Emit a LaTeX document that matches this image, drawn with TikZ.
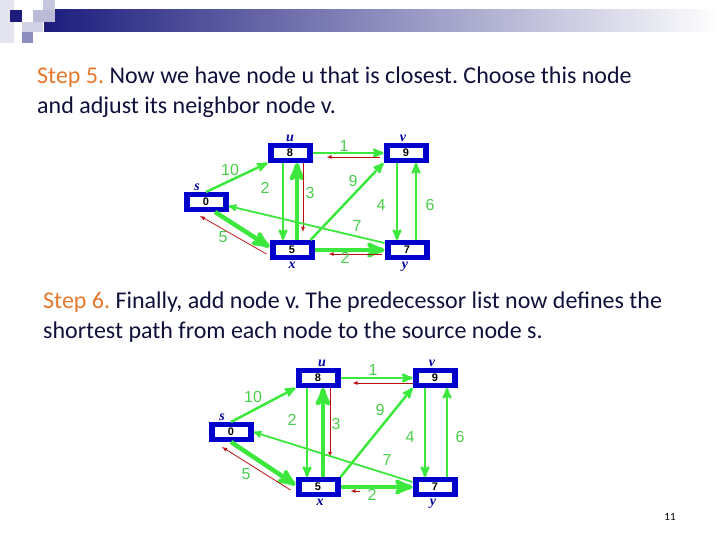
\documentclass[tikz,border=0pt]{standalone}
\usepackage{fontspec}
\setmainfont{Carlito}
\newfontfamily\arialfont{Liberation Sans}
\newfontfamily\timesfont{Liberation Serif}
\usepackage{xcolor}
\usetikzlibrary{arrows,positioning}
\definecolor{hdrblue}{RGB}{28,28,125}
\definecolor{stepcol}{RGB}{228,120,45}
\definecolor{txtcol}{RGB}{16,16,60}
\definecolor{boxblue}{RGB}{0,0,205}
\definecolor{edgegreen}{RGB}{60,232,60}
\definecolor{labgreen}{RGB}{75,205,75}
\definecolor{predred}{RGB}{185,15,15}
\tikzset{
  slidetext/.style = {anchor=base west, inner sep=0pt, text=txtcol,
    font=\fontsize{24}{30}\selectfont},
  vbox/.style = {fill=boxblue, inner sep=0pt, outer sep=0pt,
    minimum width=45pt, minimum height=20pt,
    path picture={\fill[white]
      ([shift={(6pt,-5pt)}]path picture bounding box.north west) rectangle
      ([shift={(-6pt,5pt)}]path picture bounding box.south east);},
    font=\arialfont\bfseries\fontsize{11}{11}\selectfont},% distance box
  vname/.style = {text=boxblue!80!black, inner sep=0pt,
    font=\timesfont\bfseries\itshape\fontsize{14}{14}\selectfont},% vertex name
  gedge/.style = {->, >=stealth', draw=edgegreen, line width=2.5pt},% edge
  gfat/.style = {gedge, line width=4.5pt},% relaxed edge
  redge/.style = {->, >=latex, draw=predred, line width=0.8pt},% predecessor
  wlab/.style = {text=labgreen, inner sep=0pt,
    font=\arialfont\fontsize{16}{16}\selectfont}% weight
}
\frenchspacing
\begin{document}
\begin{tikzpicture}[x=1pt,y=-1pt]
\useasboundingbox (0,0) rectangle (720,540);
% header
\shade[left color=hdrblue, right color=white] (44,10) rectangle (720,32);
\fill[hdrblue!12] (0,0) rectangle (14,43);
\fill[hdrblue!25] (43,0) rectangle (55,10);
\fill[hdrblue!30] (33,10) rectangle (55,22);
\fill[hdrblue!20] (22,22) rectangle (43,32);
\fill[hdrblue!50] (22,32) rectangle (33,43);
\fill[hdrblue] (10,10) rectangle (22,22);

% text
\node[slidetext] (t5a) at (37,84) {\textcolor{stepcol}{Step 5.} Now we have node u that is closest. Choose this node};
\node[slidetext] (t5b) at (37,114) {and adjust its neighbor node v.};
\node[slidetext] (t6a) at (43,308) {\textcolor{stepcol}{Step 6.} Finally, add node v. The predecessor list now defines the};
\node[slidetext] (t6b) at (43,338) {shortest path from each node to the source node s.};
\node[inner sep=0pt, font=\fontsize{11}{11}\selectfont] (pg) at (670,517) {11};

% step 5 graph
\node[vbox, label={[vname, xshift=-9pt, yshift=1pt]above:s}] (s5) at (206,202) {0};
\node[vbox, label={[vname, yshift=1pt]above:u}] (u5) at (290,153) {8};
\node[vbox, label={[vname, xshift=-3pt, yshift=1pt]above:v}] (v5) at (406,153) {9};
\node[vbox, label={[vname, yshift=-2pt]below:x}] (x5) at (292,250) {5};
\node[vbox, label={[vname, xshift=-2pt, yshift=-2pt]below:y}] (y5) at (407,250) {7};

\draw[gedge] (s5.north) -- (u5.south west);
\draw[gfat] ([xshift=9pt]s5.south) -- ([yshift=3pt]x5.west);
\draw[redge] ([xshift=-3pt,yshift=-4pt]x5.west) -- ([xshift=-6pt,yshift=-4pt]s5.south);
\draw[gedge] ([xshift=-7pt]u5.south) -- ([xshift=-9pt]x5.north);
\draw[gfat] ([xshift=5pt]x5.north) -- ([xshift=7pt]u5.south);
\draw[redge] ([xshift=13pt]u5.south) -- ([xshift=11pt,yshift=8pt]x5.north);
\draw[gedge] (u5.east) -- (v5.west);
\draw[redge] ([xshift=-4pt,yshift=-4pt]v5.west) -- ([xshift=14pt,yshift=-4pt]u5.east);
\draw[gedge] ([xshift=-4pt]x5.north east) -- (v5.south west);
\draw[gedge] ([xshift=-9pt]v5.south) -- ([xshift=-10pt]y5.north);
\draw[gedge] ([xshift=9pt]y5.north) -- ([xshift=10pt]v5.south);
\draw[gedge, line width=1.8pt] ([yshift=7pt]y5.west) -- ([yshift=-4pt]s5.east);
\draw[gfat] (x5.east) -- (y5.west);
\draw[redge] ([xshift=-3pt,yshift=-4pt]y5.west) -- ([xshift=14pt,yshift=-4pt]x5.east);

\node[wlab] (w5su) at (230,170) {10};
\node[wlab] (w5sx) at (223,237) {5};
\node[wlab] (w5ux) at (265,188) {2};
\node[wlab] (w5xu) at (310,193) {3};
\node[wlab] (w5uv) at (344,146) {1};
\node[wlab] (w5xv) at (353,181) {9};
\node[wlab] (w5vy) at (381,205) {4};
\node[wlab] (w5yv) at (430,205) {6};
\node[wlab] (w5ys) at (357,226) {7};
\node[wlab] (w5xy) at (345,258) {2};

% step 6 graph
\node[vbox, label={[vname, xshift=-9pt, yshift=1pt]above:s}] (s6) at (231,432) {0};
\node[vbox, label={[vname, xshift=4pt, yshift=1pt]above:u}] (u6) at (318,378) {8};
\node[vbox, label={[vname, xshift=-3pt, yshift=1pt]above:v}] (v6) at (435,378) {9};
\node[vbox, label={[vname, xshift=2pt, yshift=-2pt]below:x}] (x6) at (318,487) {5};
\node[vbox, label={[vname, xshift=-2pt, yshift=-2pt]below:y}] (y6) at (435,487) {7};

\draw[gedge] (s6.north) -- (u6.south west);
\draw[gfat] (s6.south) -- ([yshift=2pt]x6.west);
\draw[redge] ([xshift=-5pt,yshift=-3pt]x6.west) -- ([xshift=-9pt,yshift=-5pt]s6.south);
\draw[gedge] ([xshift=-11pt]u6.south) -- ([xshift=-11pt]x6.north);
\draw[gfat] ([xshift=5pt]x6.north) -- ([xshift=5pt]u6.south);
\draw[redge] ([xshift=12pt]u6.south) -- ([xshift=12pt,yshift=20pt]x6.north);
\draw[gedge] (u6.east) -- (v6.west);
\draw[redge] ([yshift=-5pt]v6.west) -- ([xshift=12pt,yshift=-5pt]u6.east);
\draw[gedge] (x6.north east) -- (v6.south west);
\draw[gedge] ([xshift=-10pt]v6.south) -- ([xshift=-10pt]y6.north);
\draw[gedge] ([xshift=12pt]y6.north) -- ([xshift=12pt]v6.south);
\draw[gedge, line width=1.8pt] ([yshift=5pt]y6.west) -- (s6.east);
\draw[gfat] (x6.east) -- (y6.west);
\draw[redge] ([xshift=19pt,yshift=-4pt]x6.east) -- ([xshift=10pt,yshift=-4pt]x6.east);

\node[wlab] (w6su) at (253,397) {10};
\node[wlab] (w6sx) at (246,474) {5};
\node[wlab] (w6ux) at (292,420) {2};
\node[wlab] (w6xu) at (336,424) {3};
\node[wlab] (w6uv) at (373,370) {1};
\node[wlab] (w6xv) at (380,410) {9};
\node[wlab] (w6vy) at (410,437) {4};
\node[wlab] (w6yv) at (460,437) {6};
\node[wlab] (w6ys) at (387,460) {7};
\node[wlab] (w6xy) at (372,495) {2};
\end{tikzpicture}
\end{document}
